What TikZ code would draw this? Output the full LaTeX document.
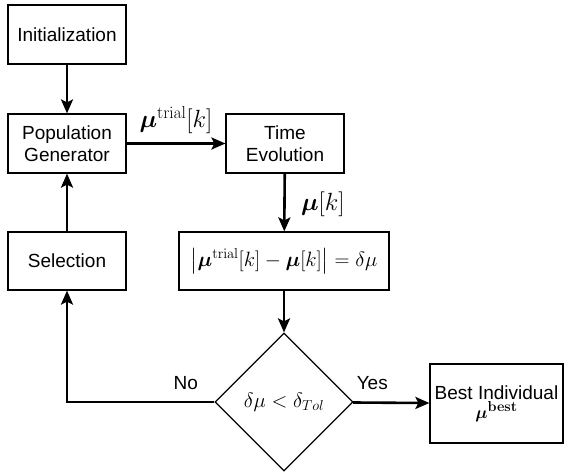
\documentclass[tikz,border=0pt]{standalone}
\usepackage{amsmath,bm}
\usepackage[no-math]{fontspec}
\setmainfont{Liberation Sans}
\usetikzlibrary{shapes.geometric,arrows.meta}

\tikzset{
  block/.style={draw,line width=1.2pt,minimum width=118pt,minimum height=59pt,
    align=center,inner sep=2pt},
  decision/.style={draw,diamond,line width=1.2pt,minimum width=138pt,
    minimum height=138pt,inner sep=0pt,font=\fontsize{20}{24}\selectfont},
  flow/.style={line width=2.6pt,-{Stealth[length=14pt,width=12pt,inset=3pt]}},
  biglabel/.style={font=\fontsize{24}{28}\selectfont}
}

\begin{document}
\begin{tikzpicture}[x=1pt,y=-1pt,font=\fontsize{19}{22}\selectfont]
    \useasboundingbox (0,0) rectangle (564,472);
    % boxes
    \node[block] (init) at (67,34.5) {Initialization};
    \node[block] (popgen) at (67,143.5) {Population\\Generator};
    \node[block] (timeev) at (285,143.5) {Time\\Evolution};
    \node[block,minimum height=58pt] (select) at (67,261) {Selection};
    \node[block,minimum width=210pt,minimum height=58pt,font=\fontsize{21}{25}\selectfont] (diff) at (284,261)
      {$\big|\bm{\mu}^{\mathrm{trial}}[k]-\bm{\mu}[k]\big|=\delta\mu$};
    \node[decision] (check) at (284,402) {$\delta\mu<\delta_{Tol}$};
    \node[block,minimum width=133pt,minimum height=79pt] (best) at (496.5,403.5)
      {Best Individual\\[-3pt]$\bm{\mu}^{\mathbf{best}}$};
    % arrows
    \draw[flow] (init) -- (popgen);
    \draw[flow] (popgen) -- node[biglabel,above=5pt] (trial) {$\bm{\mu}^{\mathrm{trial}}[k]$} (timeev);
    \draw[flow] (timeev) -- node[biglabel,right=12pt,yshift=-2pt] (muk) {$\bm{\mu}[k]$} (diff);
    \draw[flow] (diff) -- (check);
    \draw[flow] (select) -- (popgen);
    \draw[flow] (check.west) -- node[above=8pt,xshift=45pt] (no) {No} (check.west -| select.south) -- (select);
    \draw[flow] (check) -- node[above=8pt,xshift=-19pt] (yes) {Yes} (best);
\end{tikzpicture}
\end{document}
